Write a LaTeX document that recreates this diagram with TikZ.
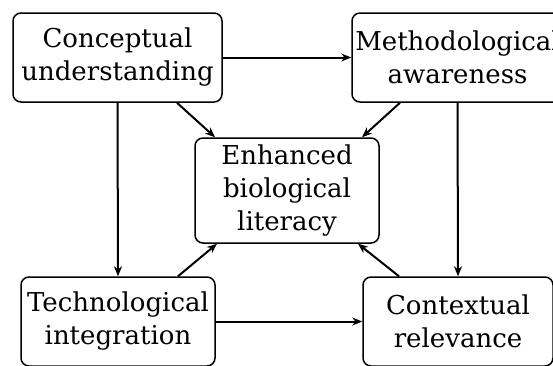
\documentclass[tikz,border=0pt]{standalone}
\usepackage{fontspec}
\setmainfont{DejaVu Serif}
\usetikzlibrary{arrows.meta}
\begin{document}
\begin{tikzpicture}[x=1pt,y=-1pt,
  box/.style={draw, rounded corners=8pt, line width=1.5pt, align=center, inner sep=0pt,
    font=\fontsize{26}{33}\selectfont},
  conn/.style={-{Stealth[length=10pt,width=8pt]}, line width=2pt}]
\useasboundingbox (0,0) rectangle (553,365);
\clip (0,0) rectangle (553,365);
\node[box, minimum width=209pt, minimum height=89pt] (C) at (117.5,57.5) {Conceptual\\understanding};
\node[box, minimum width=211pt, minimum height=89pt] (M) at (457.5,57.5) {Methodological\\awareness};
\node[box, minimum width=184pt, minimum height=105pt] (E) at (287,190.5) {Enhanced\\biological\\literacy};
\node[box, minimum width=194pt, minimum height=89pt] (T) at (118,321.5) {Technological\\integration};
\node[box, minimum width=190pt, minimum height=89pt] (X) at (458,321.5) {Contextual\\relevance};
\draw[conn] (C.east) -- (M.west);
\draw[conn] (C.south) -- (T.north);
\draw[conn] (M.south) -- (X.north);
\draw[conn] (T.east) -- (X.west);
\draw[conn] ([xshift=59.5pt]C.south) -- ([xshift=-72pt]E.north);
\draw[conn] ([xshift=-57.5pt]M.south) -- ([xshift=75pt]E.north);
\draw[conn] ([xshift=60pt]T.north) -- ([xshift=-70pt]E.south);
\draw[conn] ([xshift=-59pt]X.north) -- ([xshift=71pt]E.south);
\end{tikzpicture}
\end{document}
